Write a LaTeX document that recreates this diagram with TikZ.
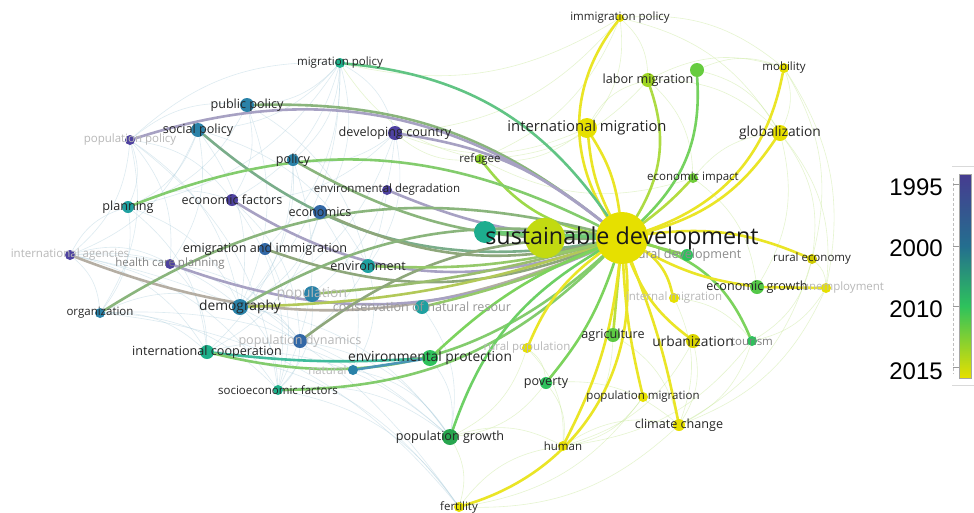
\documentclass[tikz,border=0pt]{standalone}
\usepackage{fontspec}
\setmainfont{Open Sans}
\newfontfamily\legendfont{Liberation Sans}
\usetikzlibrary{positioning}

\definecolor{cpurple}{HTML}{4E42A0}
\definecolor{cblue}{HTML}{3268A6}
\definecolor{cpetrol}{HTML}{2A82A8}
\definecolor{cteal}{HTML}{1FA0A0}
\definecolor{cjade}{HTML}{1DB08A}
\definecolor{cgreen}{HTML}{2EC25C}
\definecolor{clime}{HTML}{8CD22A}
\definecolor{cyellow}{HTML}{E6E000}
\definecolor{cmauve}{HTML}{9890B8}

\pgfdeclarelayer{paper}
\pgfdeclarelayer{edges}
\pgfsetlayers{paper,edges,main}

\tikzset{
	dot/.style={circle, fill=#1, inner sep=0pt, minimum size=12pt},
	tsmall/.style={font=\fontsize{11.5}{13}\selectfont, text=black!85, inner sep=1pt},
	tmid/.style={font=\fontsize{12.6}{14}\selectfont, text=black!85, inner sep=1pt},
	tbig/.style={font=\fontsize{13.8}{15}\selectfont, text=black!85, inner sep=1pt},
	faded/.style={text=black!28},
	link/.style={draw=#1!85!white, line width=2.6pt, line cap=round},
	faint/.style={draw=#1, line width=0.6pt, opacity=0.4},
}

\begin{document}
\begin{tikzpicture}[x=1pt, y=-1pt]
	\begin{pgfonlayer}{paper}
	\fill[white] (0,0) rectangle (974,512);
	\end{pgfonlayer}
	\useasboundingbox (0,0) rectangle (974,512);

	% faded keywords
	\node[dot=cpurple, minimum size=10pt, label={[tsmall,faded]center:population policy}] (poppolicy) at (130,140) {};
	\node[dot=cpurple, minimum size=10pt, label={[tsmall,faded]center:international agencies}] (intlagencies) at (70,255) {};
	\node[dot=cpurple, minimum size=10pt, label={[tsmall,text=black!50]center:health care planning}] (hcplanning) at (170,264) {};
	\node[dot=cpetrol, minimum size=16pt, label={[tbig,faded]center:population}] (population) at (312,294) {};
	\node[dot=cblue, minimum size=14pt, label={[tmid,faded]center:population dynamics}] (popdynamics) at (300,341) {};
	\node[dot=cpetrol, minimum size=10pt, label={[tsmall,faded]180:natural}] (natural) at (353,370) {};
	\node[dot=cteal, minimum size=14pt, label={[tmid,text=black!40]center:conservation of natural resour}] (conservation) at (422,307) {};
	\node[dot=cyellow, minimum size=10pt, label={[tsmall,faded]center:rural population}] (ruralpop) at (527,348) {};
	\node[dot=cgreen, minimum size=12pt, label={[tmid,text=black!45]center:rural development}] (ruraldev) at (687,255) {};
	\node[dot=cyellow, minimum size=10pt, label={[tsmall,faded]center:internal migration}] (internalmig) at (674,298) {};
	\node[dot=cyellow, minimum size=10pt, label={[tsmall,faded,xshift=17pt]center:unemployment}] (unemployment) at (826,288) {};
	\node[dot=cgreen, minimum size=10pt, label={[tsmall,text=black!50]center:tourism}] (tourism) at (752,341) {};

	% left keywords
	\node[dot=cyellow, minimum size=8pt, label={[tsmall]center:immigration policy}] (immpolicy) at (620,18) {};
	\node[dot=cjade, minimum size=10pt, label={[tsmall]center:migration policy}] (migpolicy) at (340,63) {};
	\node[dot=cpetrol, minimum size=14pt, label={[tmid]center:public policy}] (pubpolicy) at (247,105) {};
	\node[dot=cpetrol, minimum size=14pt, label={[tmid]center:social policy}] (socpolicy) at (198,130) {};
	\node[dot=cpurple, minimum size=14pt, label={[tmid]center:developing country}] (devcountry) at (395,133) {};
	\node[dot=cpetrol, minimum size=12pt, label={[tmid]center:policy}] (policy) at (293,160) {};
	\node[dot=cpurple, minimum size=10pt, label={[tsmall]center:environmental degradation}] (envdegrad) at (387,190) {};
	\node[dot=cpurple, minimum size=12pt, label={[tmid]center:economic factors}] (econfactors) at (232,200) {};
	\node[dot=cteal, minimum size=12pt, label={[tmid]center:planning}] (planning) at (128,207) {};
	\node[dot=cblue, minimum size=14pt, label={[tmid]center:economics}] (economics) at (320,212) {};
	\node[dot=cblue, minimum size=12pt, label={[tmid]center:emigration and immigration}] (emigimmig) at (265,249) {};
	\node[dot=cteal, minimum size=14pt, label={[tmid]center:environment}] (environment) at (368,266) {};
	\node[dot=cpetrol, minimum size=16pt, label={[tbig]center:demography}] (demography) at (240,307) {};
	\node[dot=cpetrol, minimum size=10pt, label={[tsmall]center:organization}] (organization) at (100,313) {};
	\node[dot=cjade, minimum size=14pt, label={[tmid]center:international cooperation}] (intlcoop) at (207,352) {};
	\node[dot=cgreen, minimum size=16pt, label={[tbig]center:environmental protection}] (envprotect) at (430,358) {};
	\node[dot=cjade, minimum size=10pt, label={[tsmall]center:socioeconomic factors}] (socioecon) at (278,390) {};
	\node[dot=cgreen!85!black, minimum size=16pt, label={[tmid]center:population growth}] (popgrowth) at (450,437) {};

	% right keywords
	\node[dot=clime!80!cyellow, minimum size=14pt, label={[tmid]center:labor migration}] (labormig) at (648,80) {};
	\node[dot=clime!60!cgreen, minimum size=14pt] (greenkw) at (697,70) {};
	\node[dot=cyellow, minimum size=10pt, label={[tsmall]center:mobility}] (mobility) at (784,68) {};
	\node[dot=cyellow, minimum size=20pt, label={[font=\fontsize{14.8}{16}\selectfont, text=black!85]center:international migration}] (intlmig) at (587,128) {};
	\node[dot=cyellow, minimum size=16pt, label={[tbig]center:globalization}] (globalization) at (780,133) {};
	\node[dot=clime, minimum size=10pt, label={[tsmall]center:refugee}] (refugee) at (480,159) {};
	\node[dot=clime!70!cgreen, minimum size=10pt, label={[tsmall]center:economic impact}] (econimpact) at (693,178) {};
	\node[dot=cyellow!90!black, minimum size=10pt, label={[tsmall]center:rural economy}] (ruralecon) at (812,259) {};
	\node[dot=clime!40!cgreen, minimum size=14pt, label={[tmid]center:economic growth}] (econgrowth) at (757,287) {};
	\node[dot=clime!50!cgreen, minimum size=14pt, label={[tmid]center:agriculture}] (agriculture) at (613,335) {};
	\node[dot=cyellow!95!black, minimum size=14pt, label={[tbig]center:urbanization}] (urbanization) at (693,341) {};
	\node[dot=cgreen, minimum size=12pt, label={[tmid]center:poverty}] (poverty) at (546,383) {};
	\node[dot=cyellow, minimum size=10pt, label={[tsmall]center:population migration}] (popmigration) at (643,397) {};
	\node[dot=cyellow, minimum size=12pt, label={[tmid]center:climate change}] (climate) at (679,425) {};
	\node[dot=cyellow, minimum size=10pt, label={[tsmall]center:human}] (human) at (563,446) {};
	\node[dot=cyellow, minimum size=10pt, label={[tsmall]center:fertility}] (fertility) at (459,507) {};

	% hub
	\node[dot=cjade!80!cteal, minimum size=22pt] (hubteal) at (485,232) {};
	\node[dot=clime!40!cyellow, minimum size=40pt] (hublime) at (545,238) {};
	\node[dot=cyellow, minimum size=52pt, label={[font=\fontsize{23.3}{25}\selectfont, text=black!90]center:sustainable development}] (sd) at (622,238) {};

	\begin{pgfonlayer}{edges}
	% background links
	\foreach \a/\b in {poppolicy/intlagencies, poppolicy/planning, poppolicy/pubpolicy, poppolicy/migpolicy,
		poppolicy/econfactors, poppolicy/organization, intlagencies/organization, intlagencies/planning,
		intlagencies/demography, intlagencies/intlcoop, intlagencies/socioecon, intlagencies/hcplanning,
		planning/organization, planning/econfactors, planning/demography, organization/intlcoop,
		organization/socioecon, migpolicy/pubpolicy, migpolicy/devcountry, migpolicy/policy,
		migpolicy/socpolicy, migpolicy/econfactors, migpolicy/economics, devcountry/policy,
		devcountry/econfactors, devcountry/environment, pubpolicy/econfactors, pubpolicy/demography,
		socpolicy/demography, socpolicy/hcplanning, socpolicy/intlagencies, policy/demography,
		policy/intlcoop, economics/intlcoop, econfactors/socioecon, hcplanning/intlcoop,
		demography/socioecon, demography/popdynamics, popdynamics/socioecon, intlcoop/popgrowth,
		socioecon/popgrowth, natural/popgrowth, envprotect/popgrowth, socioecon/fertility,
		intlcoop/fertility, conservation/popgrowth, organization/popgrowth, intlagencies/fertility,
		poppolicy/socioecon, migpolicy/planning, socpolicy/planning, pubpolicy/planning,
		poppolicy/hcplanning, poppolicy/demography, migpolicy/demography, migpolicy/emigimmig,
		devcountry/demography, devcountry/population, pubpolicy/environment, socpolicy/environment,
		economics/demography, econfactors/popdynamics, emigimmig/socioecon, hcplanning/popdynamics,
		planning/intlcoop, organization/demography, intlagencies/popdynamics, envdegrad/popdynamics,
		policy/socioecon, economics/natural, environment/natural, population/socioecon,
		intlcoop/natural, organization/fertility, popdynamics/popgrowth, demography/popgrowth}
		\draw[faint=cpetrol!40] (\a) to[bend left=22] (\b);
	\foreach \a/\b in {immpolicy/labormig, immpolicy/mobility, immpolicy/globalization, immpolicy/refugee,
		labormig/mobility, labormig/globalization, mobility/globalization, mobility/ruralecon,
		globalization/ruralecon, globalization/econgrowth, globalization/unemployment, ruralecon/unemployment,
		ruralecon/tourism, unemployment/tourism, tourism/climate, urbanization/climate,
		agriculture/climate, poverty/climate, human/climate, poverty/human, ruralpop/poverty,
		ruralpop/popgrowth, agriculture/human, intlmig/refugee, intlmig/labormig, econimpact/globalization,
		econimpact/refugee, fertility/human, poverty/popgrowth, popgrowth/human, popgrowth/fertility,
		mobility/unemployment, immpolicy/migpolicy, refugee/migpolicy, immpolicy/intlmig,
		greenkw/mobility, greenkw/globalization, labormig/econimpact, econimpact/econgrowth,
		ruralecon/climate, unemployment/climate, tourism/human, urbanization/human, popmigration/human,
		popmigration/fertility, climate/fertility, ruralpop/human, internalmig/climate, internalmig/tourism,
		refugee/devcountry, intlmig/devcountry, immpolicy/devcountry, labormig/refugee}
		\draw[faint=clime!55] (\a) to[bend left=22] (\b);

	% links to the hub
	\draw[link=cyellow] (immpolicy) to[bend right=35] (sd);
	\draw[link=cyellow] (intlmig) to[bend right=10] (sd);
	\draw[link=cyellow] (intlmig) to[bend left=12] (sd);
	\draw[link=clime!80!cyellow] (labormig) to[bend left=25] (sd);
	\draw[link=clime!50!cgreen] (greenkw) to[bend left=25] (sd);
	\draw[link=cyellow] (mobility) to[bend left=30] (sd);
	\draw[link=cyellow] (globalization) to[bend left=20] (sd);
	\draw[link=clime!70!cyellow] (econimpact) to[bend left=5] (sd);
	\draw[link=clime] (refugee) to[bend right=20] (sd);
	\draw[link=cjade!80!cyellow] (migpolicy) to[bend left=25] (sd);
	\draw[link=cpetrol!60!cyellow] (pubpolicy) to[bend left=20] (sd);
	\draw[link=cmauve] (poppolicy) to[bend left=28] (sd);
	\draw[link=cpetrol!70!cyellow] (socpolicy) to[bend right=25] (sd);
	\draw[link=cmauve] (devcountry) to[bend left=15] (sd);
	\draw[link=cjade!60!cyellow] (planning) to[bend left=24] (sd);
	\draw[link=cpetrol!60!cyellow] (policy) to[bend right=15] (sd);
	\draw[link=cmauve] (envdegrad) to[bend right=10] (sd);
	\draw[link=cmauve] (econfactors) to[bend right=25] (sd);
	\draw[link=cblue!60!cyellow] (economics) to[bend right=18] (sd);
	\draw[link=cblue!60!cyellow] (emigimmig) to[bend right=20] (sd);
	\draw[link=cmauve!80!cyellow] (intlagencies) to[bend right=22] (sd);
	\draw[link=cmauve] (hcplanning) to[bend right=22] (sd);
	\draw[link=cpetrol!60!cyellow] (organization) to[bend left=23] (sd);
	\draw[link=cpetrol!60!cyellow] (demography) to[bend left=18] (sd);
	\draw[link=cpetrol!35!cyellow] (demography) to[bend right=8] (sd);
	\draw[link=cpetrol!50!cyellow] (population) to[bend right=5] (sd);
	\draw[link=cblue!60!cyellow] (popdynamics) to[bend left=18] (sd);
	\draw[link=cteal!50!cyellow] (conservation) to[bend right=5] (sd);
	\draw[link=cteal!50!cyellow] (environment) to[bend right=8] (sd);
	\draw[link=cjade] (intlcoop) to[bend right=5] (envprotect);
	\draw[link=cjade!60!cyellow] (intlcoop) to[bend right=28] (sd);
	\draw[link=cpetrol] (natural) to (envprotect);
	\draw[link=cgreen!70!cyellow] (envprotect) to[bend left=10] (sd);
	\draw[link=cjade!60!cyellow] (socioecon) to[bend right=22] (sd);
	\draw[link=cgreen!80!cyellow] (popgrowth) to[bend left=20] (sd);
	\draw[link=cyellow] (ruralpop) to[bend left=15] (sd);
	\draw[link=cgreen!70!cyellow] (poverty) to[bend right=10] (sd);
	\draw[link=clime!60!cyellow] (agriculture) to (sd);
	\draw[link=cyellow] (urbanization) to[bend left=15] (sd);
	\draw[link=cgreen!70!cyellow] (tourism) to[bend right=25] (sd);
	\draw[link=cgreen!60!cyellow] (ruraldev) to (sd);
	\draw[link=cyellow] (econgrowth) to[bend left=10] (sd);
	\draw[link=cyellow] (econgrowth) to (unemployment);
	\draw[link=cyellow] (sd) to[bend left=15] (ruralecon);
	\draw[link=cyellow] (internalmig) to[bend right=20] (sd);
	\draw[link=cyellow] (popmigration) to[bend left=5] (sd);
	\draw[link=cyellow] (climate) to[bend right=5] (sd);
	\draw[link=cyellow] (human) to[bend right=10] (sd);
	\draw[link=cyellow] (fertility) to[bend right=40] (sd);
	\draw[link=cjade!50!clime, line width=4pt] (hubteal) to (sd);
	\end{pgfonlayer}

	% legend
	\draw[black!15] (952,166) -- (974,166);
	\draw[black!15] (952,385) -- (974,385);
	\draw[black!25, densely dashed] (953,178) -- (953,374);
	\shade[top color=cpurple!90!black, bottom color=cpetrol!85!black] (959,174) rectangle (971,246);
	\shade[top color=cpetrol!85!black, bottom color=cgreen] (959,246) rectangle (971,306);
	\shade[top color=cgreen, bottom color=cyellow] (959,306) rectangle (971,378);
	\draw[black!35, line width=0.5pt] (959,174) rectangle (971,378);
	\foreach \yy in {184,246,306,367}
		\draw[black!40] (953,\yy) -- (959,\yy);
	\node[font=\legendfont\fontsize{24}{26}\selectfont] (y1995) at (916,187) {1995};
	\node[font=\legendfont\fontsize{24}{26}\selectfont] (y2000) at (916,248) {2000};
	\node[font=\legendfont\fontsize{24}{26}\selectfont] (y2010) at (916,309) {2010};
	\node[font=\legendfont\fontsize{24}{26}\selectfont] (y2015) at (916,371) {2015};
\end{tikzpicture}
\end{document}
